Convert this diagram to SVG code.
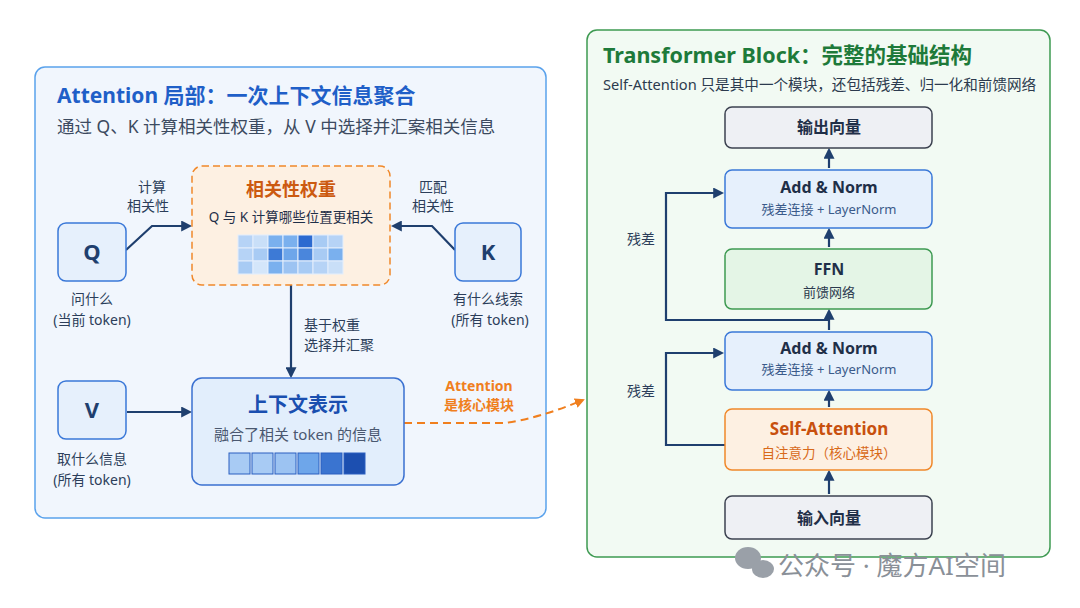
<svg xmlns="http://www.w3.org/2000/svg" width="1080" height="608" viewBox="0 0 1080 608">
<defs>
<style>
text{font-family:"Noto Sans","Noto Sans CJK SC",sans-serif}
.t{font-size:15px;fill:#4a5870;text-anchor:middle}
.lab{font-size:14px;fill:#2c3e5a;text-anchor:middle}
.labl{font-size:14px;fill:#2c3e5a}
.node{fill:#e6f0fc;stroke:#3a78d8;stroke-width:1.5}
.gn{fill:#eef0f4;stroke:#3c4250;stroke-width:1.5}
.conn{fill:none;stroke:#1f3f6e;stroke-width:2.2}
.big{font-size:22px;font-weight:bold;fill:#1f3f6e;text-anchor:middle}
.bt{font-size:16px;font-weight:bold;fill:#1f2f48;text-anchor:middle}
.st{font-size:13px;fill:#3a5a8a;text-anchor:middle}
</style>
<marker id="a" viewBox="0 0 10 10" refX="8" refY="5" markerWidth="5" markerHeight="5" orient="auto"><path d="M0,0L10,5L0,10z" fill="#1f3f6e"/></marker>
<marker id="ao" viewBox="0 0 10 10" refX="8" refY="5" markerWidth="5" markerHeight="5" orient="auto"><path d="M0,0L10,5L0,10z" fill="#f07f1e"/></marker>
</defs>
<rect width="1080" height="608" fill="#fff"/>
<rect x="35" y="67" width="511" height="451" rx="10" fill="#f1f6fd" stroke="#5aa2ec" stroke-width="1.5"/>
<text x="57" y="103" font-size="21" font-weight="bold" fill="#1f5fc8">Attention 局部：一次上下文信息聚合</text>
<text x="57" y="133" font-size="17.5" fill="#3c4a60">通过 Q、K 计算相关性权重，从 V 中选择并汇案相关信息</text>
<rect x="587" y="30" width="463" height="527" rx="10" fill="#f2faf3" stroke="#3e9a52" stroke-width="1.5"/>
<text x="603" y="63" font-size="21.5" font-weight="bold" fill="#1e7a3a">Transformer Block：完整的基础结构</text>
<text x="603" y="90" font-size="14.6" fill="#2c3a4e">Self-Attention 只是其中一个模块，还包括残差、归一化和前馈网络</text>

<g id="connectors">
<path class="conn" d="M126,250 L152,226 L190,226" marker-end="url(#a)"/>
<path class="conn" d="M455,250 L432,226 L393,226" marker-end="url(#a)"/>
<path class="conn" d="M291,285 L291,376" marker-end="url(#a)"/>
<path class="conn" d="M127,412 L190,412" marker-end="url(#a)"/>
<path d="M404,423 L505,423 Q540,418 583,400" fill="none" stroke="#f07f1e" stroke-width="2" stroke-dasharray="8,5" marker-end="url(#ao)"/>
<path class="conn" d="M829,494 L829,472" marker-end="url(#a)"/>
<path class="conn" d="M829,407 L829,392" marker-end="url(#a)"/>
<path class="conn" d="M829,330 L829,311" marker-end="url(#a)"/>
<path class="conn" d="M829,247 L829,230" marker-end="url(#a)"/>
<path class="conn" d="M829,168 L829,150" marker-end="url(#a)"/>
<path class="conn" d="M829,445 L666,445 L666,353 L722,353" marker-end="url(#a)"/>
<path class="conn" d="M829,320 L666,320 L666,193 L722,193" marker-end="url(#a)"/>
</g>
<text class="lab" x="152" y="192">计算</text><text class="lab" x="148" y="211">相关性</text>
<text class="lab" x="433" y="192">匹配</text><text class="lab" x="433" y="211">相关性</text>
<text class="labl" x="304" y="330">基于权重</text><text class="labl" x="304" y="350">选择并汇聚</text>
<text x="479" y="391" font-size="14" font-weight="bold" fill="#f07f1e" text-anchor="middle">Attention</text>
<text x="479" y="410" font-size="14" font-weight="bold" fill="#f07f1e" text-anchor="middle">是核心模块</text>
<text class="lab" x="641" y="244">残差</text>
<text class="lab" x="641" y="396">残差</text>

<g id="Q"><rect class="node" x="58" y="223" width="68" height="58" rx="8"/><text class="big" x="92" y="260">Q</text>
<text class="lab" x="92" y="304">问什么</text><text class="lab" x="92" y="325">(当前 token)</text></g>
<g id="K"><rect class="node" x="455" y="223" width="66" height="58" rx="8"/><text class="big" x="488" y="260">K</text>
<text class="lab" x="488" y="304">有什么线索</text><text class="lab" x="490" y="325">(所有 token)</text></g>
<g id="V"><rect class="node" x="58" y="381" width="68" height="58" rx="8"/><text class="big" x="92" y="418">V</text>
<text class="lab" x="92" y="464">取什么信息</text><text class="lab" x="92" y="485">(所有 token)</text></g>
<g id="weights"><rect x="192" y="166" width="198" height="119" rx="10" fill="#fdf0e2" stroke="#f0882a" stroke-width="1.5" stroke-dasharray="7,4"/>
<text x="291" y="196" font-size="18" font-weight="bold" fill="#cc5a10" text-anchor="middle">相关性权重</text>
<text x="291" y="222" font-size="13.5" fill="#1f2f48" text-anchor="middle">Q 与 K 计算哪些位置更相关</text>
<g stroke="#e4eefc" stroke-width="1">
<rect x="238" y="235" width="15" height="13" fill="#b6d3f6"/><rect x="253" y="235" width="15" height="13" fill="#c9dff8"/><rect x="268" y="235" width="15" height="13" fill="#7ab0ee"/><rect x="283" y="235" width="15" height="13" fill="#7ab0ee"/><rect x="298" y="235" width="15" height="13" fill="#2c6ad0"/><rect x="313" y="235" width="15" height="13" fill="#a8cbf4"/><rect x="328" y="235" width="15" height="13" fill="#b6d3f6"/>
<rect x="238" y="248" width="15" height="13" fill="#b6d3f6"/><rect x="253" y="248" width="15" height="13" fill="#a8cbf4"/><rect x="268" y="248" width="15" height="13" fill="#3d7ad6"/><rect x="283" y="248" width="15" height="13" fill="#6ea6ea"/><rect x="298" y="248" width="15" height="13" fill="#4a86dc"/><rect x="313" y="248" width="15" height="13" fill="#a8cbf4"/><rect x="328" y="248" width="15" height="13" fill="#7ab0ee"/>
<rect x="238" y="261" width="15" height="13" fill="#a8cbf4"/><rect x="253" y="261" width="15" height="13" fill="#d4e6fa"/><rect x="268" y="261" width="15" height="13" fill="#7ab0ee"/><rect x="283" y="261" width="15" height="13" fill="#9cc3f2"/><rect x="298" y="261" width="15" height="13" fill="#a8cbf4"/><rect x="313" y="261" width="15" height="13" fill="#b6d3f6"/><rect x="328" y="261" width="15" height="13" fill="#c9dff8"/>
</g></g>
<g id="context"><rect x="192" y="378" width="212" height="107" rx="10" fill="#e2eefc" stroke="#3a70d0" stroke-width="1.5"/>
<text x="298" y="412" font-size="20" font-weight="bold" fill="#1a4fb0" text-anchor="middle">上下文表示</text>
<text class="t" x="298" y="440" font-size="14">融合了相关 token 的信息</text>
<g stroke="#2a5fc0" stroke-width="1">
<rect x="229" y="453" width="21" height="21" fill="#a8cbf4"/><rect x="252" y="453" width="21" height="21" fill="#a8cbf4"/><rect x="275" y="453" width="21" height="21" fill="#9cc3f2"/><rect x="298" y="453" width="21" height="21" fill="#6ea6ea"/><rect x="321" y="453" width="21" height="21" fill="#3a74d0"/><rect x="344" y="453" width="21" height="21" fill="#1c4fb0"/>
</g></g>

<g id="out"><rect class="gn" x="725" y="107" width="207" height="41" rx="7"/><text class="bt" x="829" y="133">输出向量</text></g>
<g id="addnorm2"><rect class="node" x="725" y="170" width="207" height="58" rx="7"/><text class="bt" x="829" y="193">Add &amp; Norm</text><text class="st" x="829" y="214">残差连接 + LayerNorm</text></g>
<g id="ffn"><rect x="725" y="249" width="207" height="60" rx="7" fill="#e4f5e6" stroke="#3e9a52" stroke-width="1.5"/><text class="bt" x="829" y="275">FFN</text><text x="829" y="297" font-size="13" fill="#2c3a4e" text-anchor="middle">前馈网络</text></g>
<g id="addnorm1"><rect class="node" x="725" y="332" width="207" height="58" rx="7"/><text class="bt" x="829" y="354">Add &amp; Norm</text><text class="st" x="829" y="374">残差连接 + LayerNorm</text></g>
<g id="selfattn"><rect x="725" y="409" width="207" height="61" rx="7" fill="#fdf0e2" stroke="#f0882a" stroke-width="1.5"/><text x="829" y="435" font-size="17" font-weight="bold" fill="#c8500e" text-anchor="middle">Self-Attention</text><text x="829" y="458" font-size="13.5" fill="#d86a1a" text-anchor="middle">自注意力（核心模块）</text></g>
<g id="in"><rect class="gn" x="725" y="496" width="207" height="43" rx="7"/><text class="bt" x="829" y="524">输入向量</text></g>

<g fill="#9aa0a8"><ellipse cx="748" cy="558" rx="13" ry="11"/><ellipse cx="763" cy="569" rx="11" ry="9"/></g>
<text x="778" y="575" font-size="26" fill="#8a9098">公众号 · 魔方AI空间</text>
</svg>
